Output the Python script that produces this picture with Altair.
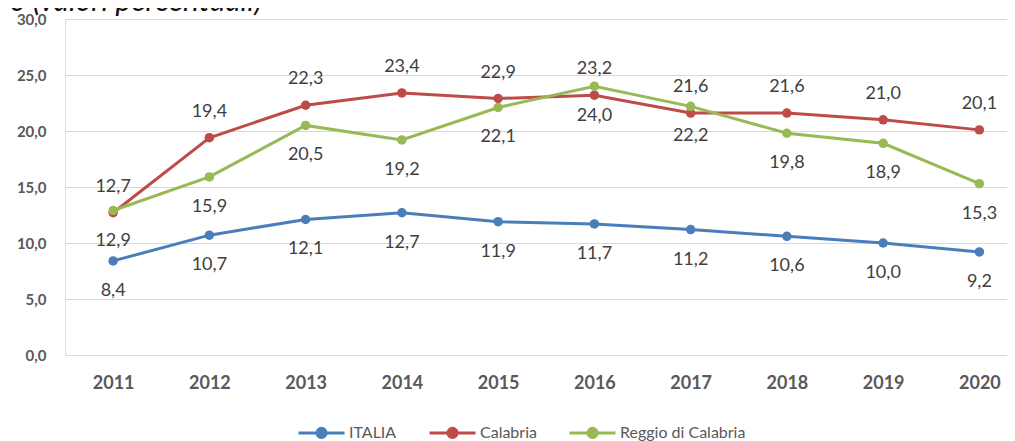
import altair as alt
import pandas as pd

years = [2011, 2012, 2013, 2014, 2015, 2016, 2017, 2018, 2019, 2020]
italia = [8.4, 10.7, 12.1, 12.7, 11.9, 11.7, 11.2, 10.6, 10.0, 9.2]
calabria = [12.7, 19.4, 22.3, 23.4, 22.9, 23.2, 21.6, 21.6, 21.0, 20.1]
reggio = [12.9, 15.9, 20.5, 19.2, 22.1, 24.0, 22.2, 19.8, 18.9, 15.3]
series_names = ["ITALIA", "Calabria", "Reggio di Calabria"]
series_colors = ["#4A7EBB", "#BE4B48", "#98B954"]
y_ticks = [0, 5, 10, 15, 20, 25, 30]
title_text = "o (valori percentuali)"

rows = []
for name, vals in zip(series_names, [italia, calabria, reggio]):
    for yr, v in zip(years, vals):
        rows.append({"year": yr, "series": name, "value": v})
df = pd.DataFrame(rows)

FONT = "Lato"

x_enc = alt.X(
    "year:Q",
    scale=alt.Scale(domain=[2010.5, 2020.287], nice=False, zero=False),
    axis=alt.Axis(values=years, format="d", grid=False, domain=False, ticks=False,
                  labelFontWeight="bold", labelFontSize=18, labelColor="#595959",
                  labelPadding=28, labelBaseline="middle", labelFlush=False,
                  labelOverlap=False, title=None, labelFont=FONT),
)
y_enc = alt.Y(
    "value:Q",
    scale=alt.Scale(domain=[0, 30], nice=False),
    axis=alt.Axis(values=y_ticks, labelExpr="replace(format(datum.value, '.1f'), '.', ',')",
                  grid=True, gridColor="#D9D9D9", gridWidth=1, domain=False, ticks=False,
                  labelPadding=19, labelFontWeight="bold", labelFontSize=15,
                  labelColor="#595959", title=None, labelFont=FONT),
)
color_enc = alt.Color(
    "series:N",
    scale=alt.Scale(domain=series_names, range=series_colors),
    legend=alt.Legend(
        title=None, orient="none", legendX=232, legendY=389, direction="horizontal",
        symbolType="M-1,0H1M-0.2,0A0.2,0.2,0,1,1,0.2,0A0.2,0.2,0,1,1,-0.2,0",
        symbolSize=2116, symbolStrokeWidth=3, labelFontSize=16, labelColor="#595959",
        labelFont=FONT, labelOffset=3, columnPadding=26, padding=0,
    ),
)

base = alt.Chart(df)
lines = base.mark_line(strokeWidth=3).encode(x=x_enc, y=y_enc, color=color_enc)
points = base.mark_point(filled=True, size=90, opacity=1).encode(
    x=x_enc, y=y_enc, color=color_enc)

lab = "replace(format(datum.value, '.1f'), '.', ',')"
labels_up = base.transform_filter(alt.datum.series == "Calabria").transform_calculate(
    lbl=lab).mark_text(dy=-26, fontSize=18, font=FONT, color="#404040").encode(
    x=x_enc, y=y_enc, text="lbl:N")
labels_down = base.transform_filter(alt.datum.series != "Calabria").transform_calculate(
    lbl=lab).mark_text(dy=30, fontSize=18, font=FONT, color="#404040").encode(
    x=x_enc, y=y_enc, text="lbl:N")

title = alt.Chart(pd.DataFrame({"t": [title_text]})).mark_text(
    align="right", baseline="alphabetic", fontStyle="italic", fontSize=30,
    font=FONT, color="#111111").encode(
    x=alt.value(197), y=alt.value(-8), text="t:N")

chart = alt.layer(lines, points, labels_up, labels_down, title).properties(
    width=942, height=336,
    autosize=alt.AutoSizeParams(type="none"),
    padding={"left": 57, "top": 11, "right": 0, "bottom": 86},
).configure_view(stroke="transparent", strokeWidth=0).configure(font=FONT, background="white")

chart.save("out.html", embed_options={"renderer": "svg", "actions": False})
